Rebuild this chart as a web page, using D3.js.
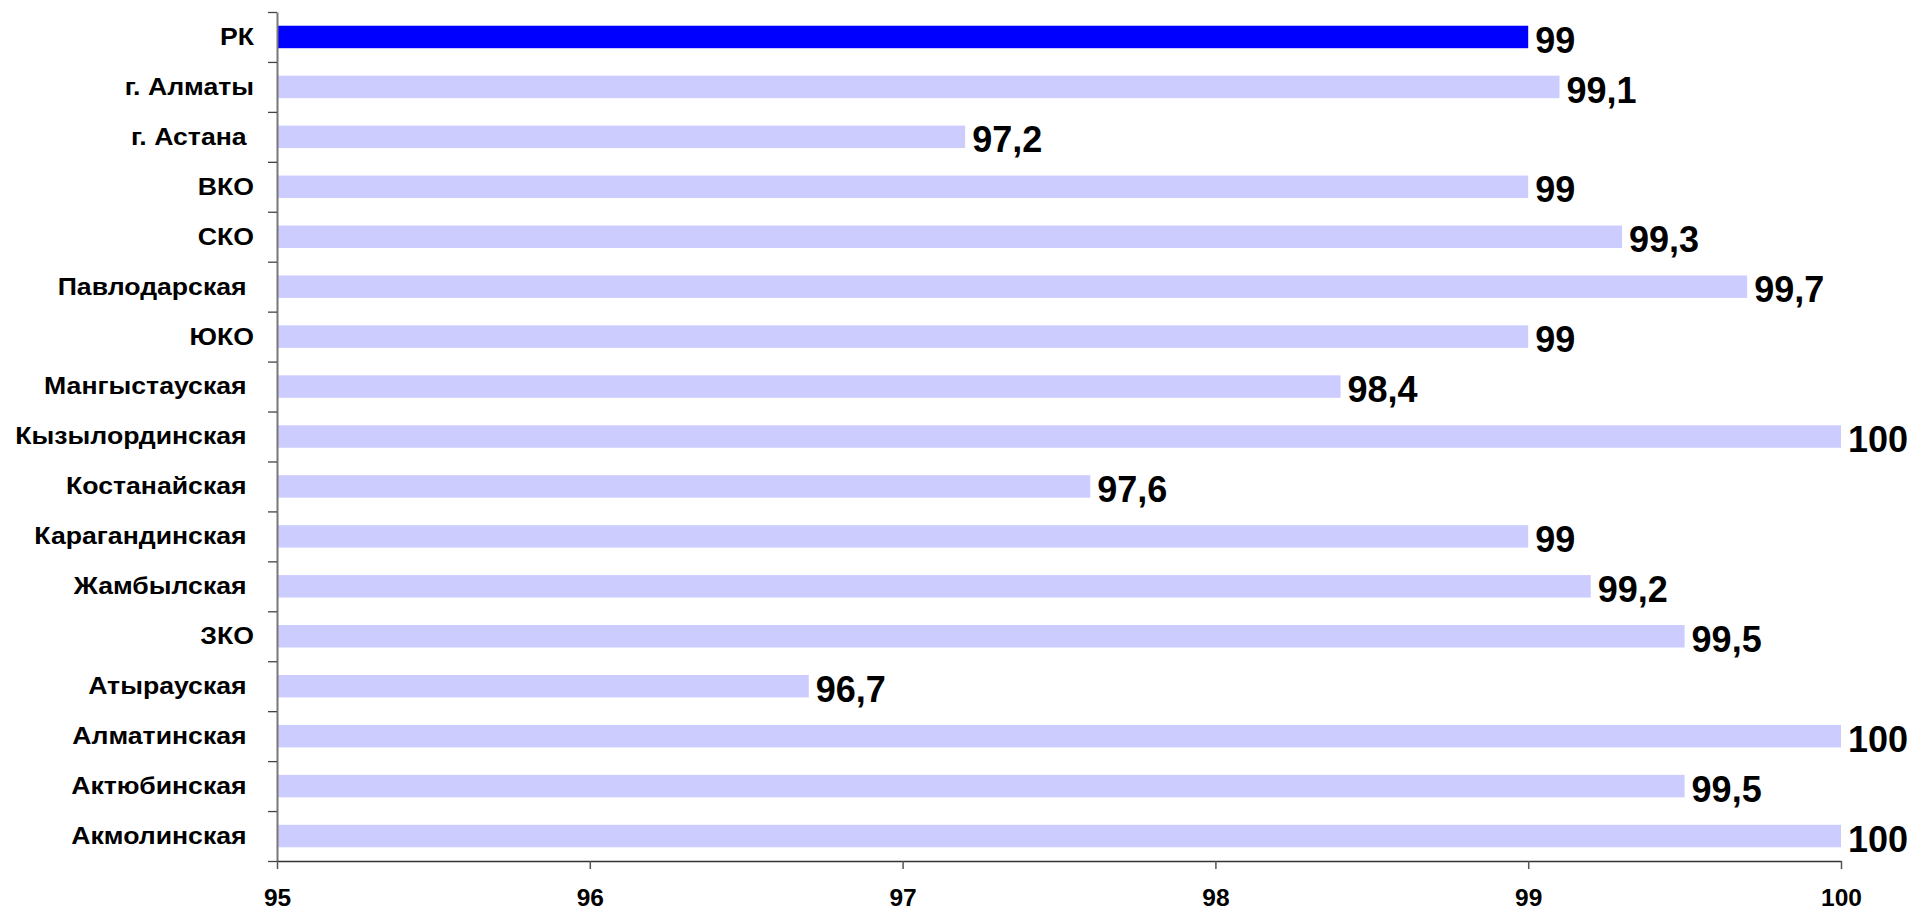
<!DOCTYPE html>
<html>
<head>
<meta charset="utf-8">
<script src="https://cdn.jsdelivr.net/npm/d3@7"></script>
<style>
  body { margin: 0; background: #fff; overflow: hidden; }
  text { font-family: "Liberation Sans", Arial, sans-serif; font-weight: bold; white-space: pre; }
</style>
</head>
<body>
<div id="chart"></div>
<script>
// regions, top to bottom (trailing spaces as in the original labels)
var regions = ["РК", "г. Алматы", "г. Астана ", "ВКО", "СКО", "Павлодарская ", "ЮКО",
	"Мангыстауская ", "Кызылординская ", "Костанайская ", "Карагандинская ", "Жамбылская ",
	"ЗКО", "Атырауская ", "Алматинская ", "Актюбинская ", "Акмолинская "];
var values = [99, 99.1, 97.2, 99, 99.3, 99.7, 99, 98.4, 100, 97.6, 99, 99.2, 99.5, 96.7, 100, 99.5, 100];
var xTicks = [95, 96, 97, 98, 99, 100];
var highlight = "РК";

var W = 1913, H = 911
var margin = { top: 12, right: 72, bottom: 50, left: 277 }
var w = W - margin.left - margin.right
var h = H - margin.top - margin.bottom

var svg = d3.select('#chart').append('svg')
	.attr('width', W)
	.attr('height', H)
	.style('display', 'block')
	.append('g')
	.attr('transform', 'translate(' + margin.left + ',' + margin.top + ')')

var data = regions.map(function (r, i) { return { name: r, value: values[i] } })

var x = d3.scaleLinear()
	.domain([95, 100])
	.range([0, w])

var y = d3.scaleBand()
	.domain(regions)
	.range([0, h])
	.paddingInner(0.55)
	.paddingOuter(0.275)

// boundary scale for the category tick marks
var yb = d3.scaleLinear()
	.domain([0, regions.length])
	.range([0, h])

// bars
svg.append("g")
	.selectAll("rect")
	.data(data)
	.enter().append("rect")
	.attr("x", 0)
	.attr("y", function (d) { return y(d.name) })
	.attr("width", function (d) { return x(d.value) - x(95) })
	.attr("height", y.bandwidth())
	.attr("fill", function (d) { return d.name == highlight ? "#0000ff" : "#ccccff" })

// Y axis (ticks between categories)
var gy = svg.append("g")
	.call(d3.axisLeft(yb).tickValues(d3.range(regions.length + 1)).tickFormat("").tickSize(9).tickSizeOuter(0))
gy.select("path").attr("stroke", "#777").attr("stroke-width", 2)
gy.selectAll("line").attr("stroke", "#444").attr("stroke-width", 1.3)

// X axis
var gx = svg.append("g")
	.attr("transform", "translate(0," + h + ")")
	.call(d3.axisBottom(x).tickValues(xTicks).tickFormat(d3.format("d")).tickSize(8).tickSizeOuter(0).tickPadding(20))
gx.select("path").attr("stroke", "#333").attr("stroke-width", 1.5)
gx.selectAll("line").attr("stroke", "#555").attr("stroke-width", 1.5)
gx.selectAll("text")
	.attr("fill", "#000")
	.style("font-size", "24.5px")
	.style("font-family", '"Liberation Sans", Arial, sans-serif')
	.style("font-weight", "bold")

// category labels (the original text is a little wider than tall)
svg.append("g")
	.selectAll("text")
	.data(data)
	.enter().append("text")
	.attr("transform", function (d) { return "translate(-23," + (y(d.name) + y.bandwidth() / 2) + ") scale(1.11,1)" })
	.attr("dy", "0.33em")
	.attr("text-anchor", "end")
	.style("font-size", "24px")
	.text(function (d) { return d.name })

// value labels
svg.append("g")
	.selectAll("text")
	.data(data)
	.enter().append("text")
	.attr("x", function (d) { return x(d.value) + 7 })
	.attr("y", function (d) { return y(d.name) + y.bandwidth() / 2 + 3 })
	.attr("dy", "0.35em")
	.style("font-size", "36px")
	.text(function (d) { return String(d.value).replace(".", ",") })
</script>
</body>
</html>
